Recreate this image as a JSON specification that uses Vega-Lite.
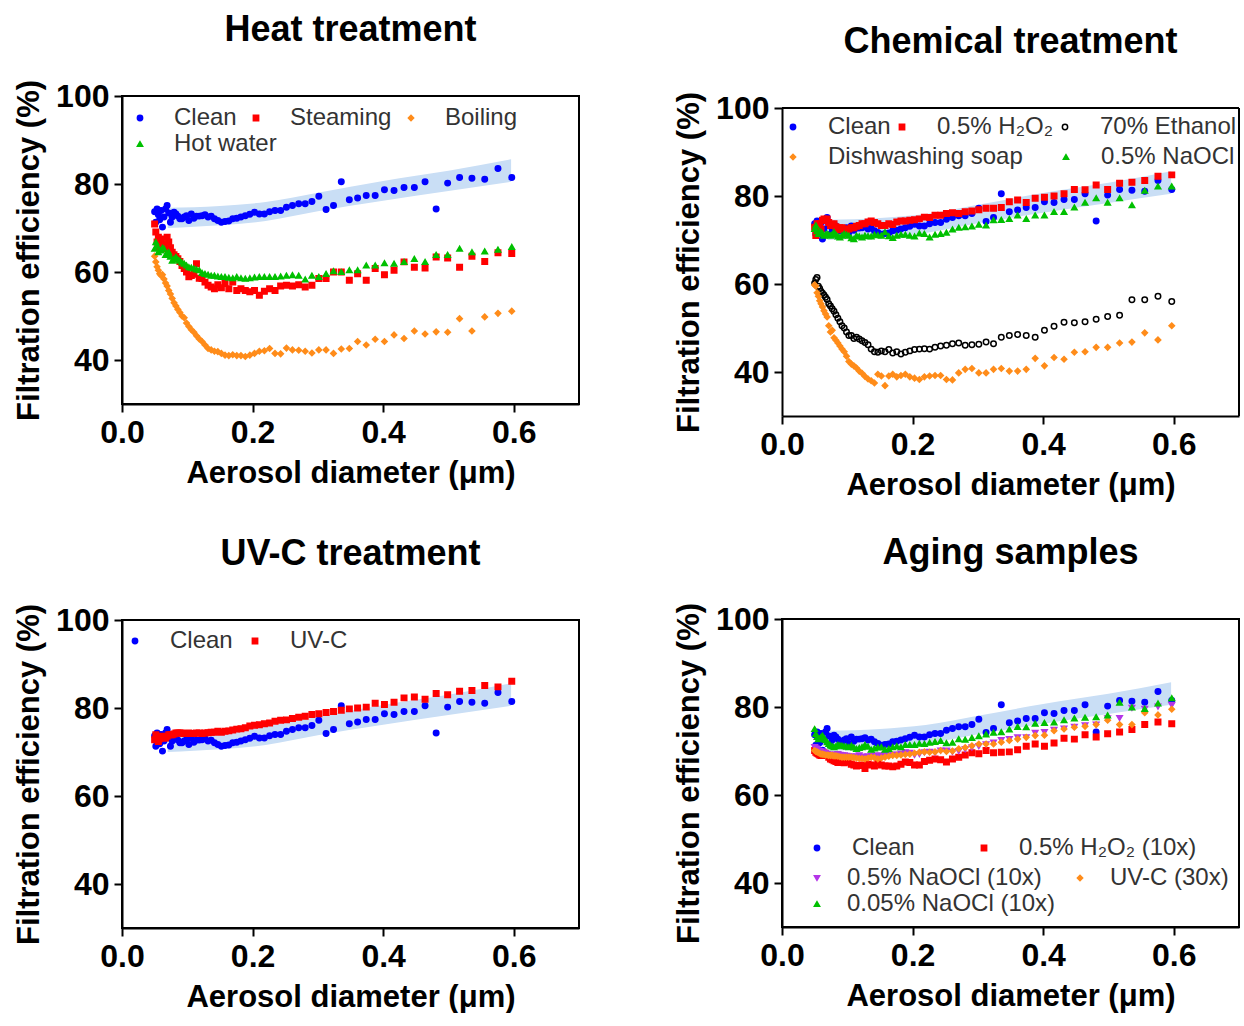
{
"$schema": "https://vega.github.io/schema/vega-lite/v6.json",
"padding": {"left": 12, "top": 11, "right": 0, "bottom": 0},
"background": "white",
"datasets": {
"band": [
{"x":0.07,"lo":70.0,"hi":74.6},{"x":0.15,"lo":70.6,"hi":75.0},{"x":0.22,"lo":71.6,"hi":75.9},{"x":0.30,"lo":73.8,"hi":78.0},{"x":0.40,"lo":76.2,"hi":80.7},{"x":0.50,"lo":78.4,"hi":83.0},{"x":0.596,"lo":80.5,"hi":85.6}
],
"frame": [
{"x":0,"x2":0.7,"y":100,"y2":100},{"x":0.7,"x2":0.7,"y":30,"y2":100}
],
"clean": [
{"x":0.05,"y":73.7,"s":"Clean"},{"x":0.0518,"y":71.3,"s":"Clean"},{"x":0.0537,"y":74.3,"s":"Clean"},{"x":0.0557,"y":73.0,"s":"Clean"},{"x":0.0577,"y":71.9,"s":"Clean"},{"x":0.0598,"y":74.0,"s":"Clean"},{"x":0.062,"y":70.2,"s":"Clean"},{"x":0.0643,"y":72.5,"s":"Clean"},{"x":0.0667,"y":74.3,"s":"Clean"},{"x":0.0691,"y":75.1,"s":"Clean"},
{"x":0.0716,"y":73.4,"s":"Clean"},{"x":0.0742,"y":71.3,"s":"Clean"},{"x":0.0769,"y":72.5,"s":"Clean"},{"x":0.0797,"y":73.6,"s":"Clean"},{"x":0.0826,"y":73.2,"s":"Clean"},{"x":0.0856,"y":72.7,"s":"Clean"},{"x":0.0887,"y":72.1,"s":"Clean"},{"x":0.0919,"y":72.1,"s":"Clean"},{"x":0.0953,"y":72.5,"s":"Clean"},{"x":0.0988,"y":72.8,"s":"Clean"},
{"x":0.1024,"y":71.7,"s":"Clean"},{"x":0.1062,"y":73.2,"s":"Clean"},{"x":0.1101,"y":72.2,"s":"Clean"},{"x":0.1141,"y":72.7,"s":"Clean"},{"x":0.1183,"y":72.7,"s":"Clean"},{"x":0.1226,"y":72.8,"s":"Clean"},{"x":0.1271,"y":73.0,"s":"Clean"},{"x":0.1318,"y":72.5,"s":"Clean"},{"x":0.1366,"y":72.7,"s":"Clean"},{"x":0.1416,"y":72.1,"s":"Clean"},
{"x":0.1468,"y":71.7,"s":"Clean"},{"x":0.1522,"y":71.3,"s":"Clean"},{"x":0.1578,"y":71.5,"s":"Clean"},{"x":0.1636,"y":71.6,"s":"Clean"},{"x":0.1696,"y":72.1,"s":"Clean"},{"x":0.1758,"y":72.2,"s":"Clean"},{"x":0.1822,"y":72.5,"s":"Clean"},{"x":0.1889,"y":72.8,"s":"Clean"},{"x":0.1958,"y":73.1,"s":"Clean"},{"x":0.203,"y":73.6,"s":"Clean"},
{"x":0.2104,"y":73.2,"s":"Clean"},{"x":0.2181,"y":73.2,"s":"Clean"},{"x":0.2261,"y":73.7,"s":"Clean"},{"x":0.2344,"y":74.0,"s":"Clean"},{"x":0.243,"y":74.0,"s":"Clean"},{"x":0.2519,"y":74.7,"s":"Clean"},{"x":0.2611,"y":75.1,"s":"Clean"},{"x":0.2707,"y":75.5,"s":"Clean"},{"x":0.2806,"y":75.5,"s":"Clean"},{"x":0.2909,"y":76.0,"s":"Clean"},
{"x":0.3015,"y":77.2,"s":"Clean"},{"x":0.3126,"y":74.2,"s":"Clean"},{"x":0.324,"y":75.1,"s":"Clean"},{"x":0.3359,"y":80.5,"s":"Clean"},{"x":0.3482,"y":76.4,"s":"Clean"},{"x":0.3609,"y":76.8,"s":"Clean"},{"x":0.3741,"y":77.4,"s":"Clean"},{"x":0.3878,"y":77.4,"s":"Clean"},{"x":0.402,"y":78.7,"s":"Clean"},{"x":0.4167,"y":78.5,"s":"Clean"},
{"x":0.432,"y":79.2,"s":"Clean"},{"x":0.4478,"y":79.2,"s":"Clean"},{"x":0.4642,"y":80.5,"s":"Clean"},{"x":0.4812,"y":74.3,"s":"Clean"},{"x":0.4988,"y":80.2,"s":"Clean"},{"x":0.5171,"y":81.5,"s":"Clean"},{"x":0.536,"y":81.3,"s":"Clean"},{"x":0.5556,"y":81.1,"s":"Clean"},{"x":0.5759,"y":83.5,"s":"Clean"},{"x":0.597,"y":81.5,"s":"Clean"}
],
"heat": [
{"x":0.05,"y":70.9,"s":"Steaming"},{"x":0.0518,"y":69.1,"s":"Steaming"},{"x":0.0537,"y":66.8,"s":"Steaming"},{"x":0.0557,"y":67.9,"s":"Steaming"},{"x":0.0577,"y":65.7,"s":"Steaming"},{"x":0.0598,"y":67.5,"s":"Steaming"},{"x":0.062,"y":66.4,"s":"Steaming"},{"x":0.0643,"y":65.3,"s":"Steaming"},{"x":0.0667,"y":65.8,"s":"Steaming"},{"x":0.0691,"y":67.9,"s":"Steaming"},
{"x":0.0716,"y":66.8,"s":"Steaming"},{"x":0.0742,"y":65.5,"s":"Steaming"},{"x":0.0769,"y":64.5,"s":"Steaming"},{"x":0.0797,"y":63.9,"s":"Steaming"},{"x":0.0826,"y":63.5,"s":"Steaming"},{"x":0.0856,"y":63.0,"s":"Steaming"},{"x":0.0887,"y":62.4,"s":"Steaming"},{"x":0.0919,"y":61.5,"s":"Steaming"},{"x":0.0953,"y":60.8,"s":"Steaming"},{"x":0.0988,"y":60.0,"s":"Steaming"},
{"x":0.1024,"y":58.9,"s":"Steaming"},{"x":0.1062,"y":59.2,"s":"Steaming"},{"x":0.1101,"y":59.5,"s":"Steaming"},{"x":0.1141,"y":61.9,"s":"Steaming"},{"x":0.1183,"y":58.6,"s":"Steaming"},{"x":0.1226,"y":58.5,"s":"Steaming"},{"x":0.1271,"y":57.7,"s":"Steaming"},{"x":0.1318,"y":57.0,"s":"Steaming"},{"x":0.1366,"y":56.6,"s":"Steaming"},{"x":0.1416,"y":56.2,"s":"Steaming"},
{"x":0.1468,"y":57.1,"s":"Steaming"},{"x":0.1522,"y":56.4,"s":"Steaming"},{"x":0.1578,"y":57.4,"s":"Steaming"},{"x":0.1636,"y":56.2,"s":"Steaming"},{"x":0.1696,"y":57.7,"s":"Steaming"},{"x":0.1758,"y":55.8,"s":"Steaming"},{"x":0.1822,"y":56.2,"s":"Steaming"},{"x":0.1889,"y":55.8,"s":"Steaming"},{"x":0.1958,"y":55.5,"s":"Steaming"},{"x":0.203,"y":55.8,"s":"Steaming"},
{"x":0.2104,"y":54.7,"s":"Steaming"},{"x":0.2181,"y":55.6,"s":"Steaming"},{"x":0.2261,"y":56.2,"s":"Steaming"},{"x":0.2344,"y":55.8,"s":"Steaming"},{"x":0.243,"y":56.8,"s":"Steaming"},{"x":0.2519,"y":57.0,"s":"Steaming"},{"x":0.2611,"y":56.8,"s":"Steaming"},{"x":0.2707,"y":57.1,"s":"Steaming"},{"x":0.2806,"y":56.6,"s":"Steaming"},{"x":0.2909,"y":57.0,"s":"Steaming"},
{"x":0.3015,"y":58.5,"s":"Steaming"},{"x":0.3126,"y":58.5,"s":"Steaming"},{"x":0.324,"y":60.0,"s":"Steaming"},{"x":0.3359,"y":60.0,"s":"Steaming"},{"x":0.3482,"y":58.1,"s":"Steaming"},{"x":0.3609,"y":59.6,"s":"Steaming"},{"x":0.3741,"y":58.1,"s":"Steaming"},{"x":0.3878,"y":60.8,"s":"Steaming"},{"x":0.402,"y":59.4,"s":"Steaming"},{"x":0.4167,"y":60.4,"s":"Steaming"},
{"x":0.432,"y":62.3,"s":"Steaming"},{"x":0.4478,"y":61.1,"s":"Steaming"},{"x":0.4642,"y":60.9,"s":"Steaming"},{"x":0.4812,"y":63.4,"s":"Steaming"},{"x":0.4988,"y":63.2,"s":"Steaming"},{"x":0.5171,"y":61.1,"s":"Steaming"},{"x":0.536,"y":63.6,"s":"Steaming"},{"x":0.5556,"y":62.4,"s":"Steaming"},{"x":0.5759,"y":64.4,"s":"Steaming"},{"x":0.597,"y":64.2,"s":"Steaming"},
{"x":0.05,"y":63.6,"s":"Boiling"},{"x":0.0518,"y":62.3,"s":"Boiling"},{"x":0.0537,"y":61.2,"s":"Boiling"},{"x":0.0557,"y":60.4,"s":"Boiling"},{"x":0.0577,"y":59.6,"s":"Boiling"},{"x":0.0598,"y":59.2,"s":"Boiling"},{"x":0.062,"y":59.4,"s":"Boiling"},{"x":0.0643,"y":58.4,"s":"Boiling"},{"x":0.0667,"y":57.5,"s":"Boiling"},{"x":0.0691,"y":56.8,"s":"Boiling"},
{"x":0.0716,"y":55.8,"s":"Boiling"},{"x":0.0742,"y":55.0,"s":"Boiling"},{"x":0.0769,"y":54.0,"s":"Boiling"},{"x":0.0797,"y":53.0,"s":"Boiling"},{"x":0.0826,"y":52.3,"s":"Boiling"},{"x":0.0856,"y":51.5,"s":"Boiling"},{"x":0.0887,"y":50.8,"s":"Boiling"},{"x":0.0919,"y":50.0,"s":"Boiling"},{"x":0.0953,"y":49.6,"s":"Boiling"},{"x":0.0988,"y":48.4,"s":"Boiling"},
{"x":0.1024,"y":47.6,"s":"Boiling"},{"x":0.1062,"y":46.9,"s":"Boiling"},{"x":0.1101,"y":46.3,"s":"Boiling"},{"x":0.1141,"y":45.5,"s":"Boiling"},{"x":0.1183,"y":44.8,"s":"Boiling"},{"x":0.1226,"y":44.2,"s":"Boiling"},{"x":0.1271,"y":43.4,"s":"Boiling"},{"x":0.1318,"y":42.6,"s":"Boiling"},{"x":0.1366,"y":42.3,"s":"Boiling"},{"x":0.1416,"y":42.0,"s":"Boiling"},
{"x":0.1468,"y":41.9,"s":"Boiling"},{"x":0.1522,"y":41.5,"s":"Boiling"},{"x":0.1578,"y":41.1,"s":"Boiling"},{"x":0.1636,"y":41.0,"s":"Boiling"},{"x":0.1696,"y":41.2,"s":"Boiling"},{"x":0.1758,"y":41.0,"s":"Boiling"},{"x":0.1822,"y":41.0,"s":"Boiling"},{"x":0.1889,"y":40.8,"s":"Boiling"},{"x":0.1958,"y":41.1,"s":"Boiling"},{"x":0.203,"y":41.5,"s":"Boiling"},
{"x":0.2104,"y":42.0,"s":"Boiling"},{"x":0.2181,"y":42.1,"s":"Boiling"},{"x":0.2261,"y":42.6,"s":"Boiling"},{"x":0.2344,"y":41.5,"s":"Boiling"},{"x":0.243,"y":41.4,"s":"Boiling"},{"x":0.2519,"y":42.7,"s":"Boiling"},{"x":0.2611,"y":42.3,"s":"Boiling"},{"x":0.2707,"y":42.2,"s":"Boiling"},{"x":0.2806,"y":42.0,"s":"Boiling"},{"x":0.2909,"y":41.6,"s":"Boiling"},
{"x":0.3015,"y":42.3,"s":"Boiling"},{"x":0.3126,"y":42.3,"s":"Boiling"},{"x":0.324,"y":41.5,"s":"Boiling"},{"x":0.3359,"y":42.5,"s":"Boiling"},{"x":0.3482,"y":42.6,"s":"Boiling"},{"x":0.3609,"y":44.2,"s":"Boiling"},{"x":0.3741,"y":43.4,"s":"Boiling"},{"x":0.3878,"y":44.7,"s":"Boiling"},{"x":0.402,"y":44.2,"s":"Boiling"},{"x":0.4167,"y":45.7,"s":"Boiling"},
{"x":0.432,"y":44.9,"s":"Boiling"},{"x":0.4478,"y":46.6,"s":"Boiling"},{"x":0.4642,"y":45.9,"s":"Boiling"},{"x":0.4812,"y":46.4,"s":"Boiling"},{"x":0.4988,"y":46.3,"s":"Boiling"},{"x":0.5171,"y":49.4,"s":"Boiling"},{"x":0.536,"y":46.6,"s":"Boiling"},{"x":0.5556,"y":49.8,"s":"Boiling"},{"x":0.5759,"y":50.6,"s":"Boiling"},{"x":0.597,"y":51.1,"s":"Boiling"},
{"x":0.05,"y":65.3,"s":"Hot water"},{"x":0.0518,"y":66.8,"s":"Hot water"},{"x":0.0537,"y":66.0,"s":"Hot water"},{"x":0.0557,"y":64.5,"s":"Hot water"},{"x":0.0577,"y":65.0,"s":"Hot water"},{"x":0.0598,"y":64.9,"s":"Hot water"},{"x":0.062,"y":65.5,"s":"Hot water"},{"x":0.0643,"y":65.3,"s":"Hot water"},{"x":0.0667,"y":63.9,"s":"Hot water"},{"x":0.0691,"y":64.2,"s":"Hot water"},
{"x":0.0716,"y":64.5,"s":"Hot water"},{"x":0.0742,"y":63.5,"s":"Hot water"},{"x":0.0769,"y":62.6,"s":"Hot water"},{"x":0.0797,"y":63.0,"s":"Hot water"},{"x":0.0826,"y":63.4,"s":"Hot water"},{"x":0.0856,"y":62.8,"s":"Hot water"},{"x":0.0887,"y":62.6,"s":"Hot water"},{"x":0.0919,"y":62.2,"s":"Hot water"},{"x":0.0953,"y":61.9,"s":"Hot water"},{"x":0.0988,"y":61.5,"s":"Hot water"},
{"x":0.1024,"y":61.1,"s":"Hot water"},{"x":0.1062,"y":61.0,"s":"Hot water"},{"x":0.1101,"y":60.8,"s":"Hot water"},{"x":0.1141,"y":60.6,"s":"Hot water"},{"x":0.1183,"y":60.4,"s":"Hot water"},{"x":0.1226,"y":59.8,"s":"Hot water"},{"x":0.1271,"y":59.6,"s":"Hot water"},{"x":0.1318,"y":59.4,"s":"Hot water"},{"x":0.1366,"y":59.2,"s":"Hot water"},{"x":0.1416,"y":59.2,"s":"Hot water"},
{"x":0.1468,"y":59.0,"s":"Hot water"},{"x":0.1522,"y":58.9,"s":"Hot water"},{"x":0.1578,"y":58.9,"s":"Hot water"},{"x":0.1636,"y":58.7,"s":"Hot water"},{"x":0.1696,"y":58.6,"s":"Hot water"},{"x":0.1758,"y":58.9,"s":"Hot water"},{"x":0.1822,"y":58.6,"s":"Hot water"},{"x":0.1889,"y":58.5,"s":"Hot water"},{"x":0.1958,"y":58.6,"s":"Hot water"},{"x":0.203,"y":58.8,"s":"Hot water"},
{"x":0.2104,"y":58.9,"s":"Hot water"},{"x":0.2181,"y":58.9,"s":"Hot water"},{"x":0.2261,"y":58.9,"s":"Hot water"},{"x":0.2344,"y":58.9,"s":"Hot water"},{"x":0.243,"y":59.0,"s":"Hot water"},{"x":0.2519,"y":59.2,"s":"Hot water"},{"x":0.2611,"y":59.3,"s":"Hot water"},{"x":0.2707,"y":59.2,"s":"Hot water"},{"x":0.2806,"y":58.3,"s":"Hot water"},{"x":0.2909,"y":59.2,"s":"Hot water"},
{"x":0.3015,"y":58.9,"s":"Hot water"},{"x":0.3126,"y":59.6,"s":"Hot water"},{"x":0.324,"y":60.2,"s":"Hot water"},{"x":0.3359,"y":60.0,"s":"Hot water"},{"x":0.3482,"y":60.4,"s":"Hot water"},{"x":0.3609,"y":60.4,"s":"Hot water"},{"x":0.3741,"y":61.5,"s":"Hot water"},{"x":0.3878,"y":61.5,"s":"Hot water"},{"x":0.402,"y":62.0,"s":"Hot water"},{"x":0.4167,"y":61.9,"s":"Hot water"},
{"x":0.432,"y":62.3,"s":"Hot water"},{"x":0.4478,"y":63.0,"s":"Hot water"},{"x":0.4642,"y":62.3,"s":"Hot water"},{"x":0.4812,"y":63.9,"s":"Hot water"},{"x":0.4988,"y":63.9,"s":"Hot water"},{"x":0.5171,"y":65.3,"s":"Hot water"},{"x":0.536,"y":64.5,"s":"Hot water"},{"x":0.5556,"y":64.7,"s":"Hot water"},{"x":0.5759,"y":65.1,"s":"Hot water"},{"x":0.597,"y":65.7,"s":"Hot water"}
],
"chem": [
{"x":0.05,"y":72.9,"s":"0.5% H₂O₂"},{"x":0.0518,"y":71.0,"s":"0.5% H₂O₂"},{"x":0.0537,"y":73.7,"s":"0.5% H₂O₂"},{"x":0.0557,"y":71.8,"s":"0.5% H₂O₂"},{"x":0.0577,"y":73.7,"s":"0.5% H₂O₂"},{"x":0.0598,"y":72.5,"s":"0.5% H₂O₂"},{"x":0.062,"y":74.5,"s":"0.5% H₂O₂"},{"x":0.0643,"y":74.8,"s":"0.5% H₂O₂"},{"x":0.0667,"y":74.5,"s":"0.5% H₂O₂"},{"x":0.0691,"y":74.8,"s":"0.5% H₂O₂"},
{"x":0.0716,"y":74.0,"s":"0.5% H₂O₂"},{"x":0.0742,"y":73.3,"s":"0.5% H₂O₂"},{"x":0.0769,"y":73.3,"s":"0.5% H₂O₂"},{"x":0.0797,"y":73.7,"s":"0.5% H₂O₂"},{"x":0.0826,"y":73.0,"s":"0.5% H₂O₂"},{"x":0.0856,"y":72.3,"s":"0.5% H₂O₂"},{"x":0.0887,"y":72.8,"s":"0.5% H₂O₂"},{"x":0.0919,"y":72.8,"s":"0.5% H₂O₂"},{"x":0.0953,"y":72.5,"s":"0.5% H₂O₂"},{"x":0.0988,"y":72.2,"s":"0.5% H₂O₂"},
{"x":0.1024,"y":72.5,"s":"0.5% H₂O₂"},{"x":0.1062,"y":72.8,"s":"0.5% H₂O₂"},{"x":0.1101,"y":72.8,"s":"0.5% H₂O₂"},{"x":0.1141,"y":73.1,"s":"0.5% H₂O₂"},{"x":0.1183,"y":73.3,"s":"0.5% H₂O₂"},{"x":0.1226,"y":73.7,"s":"0.5% H₂O₂"},{"x":0.1271,"y":73.7,"s":"0.5% H₂O₂"},{"x":0.1318,"y":74.1,"s":"0.5% H₂O₂"},{"x":0.1366,"y":74.3,"s":"0.5% H₂O₂"},{"x":0.1416,"y":74.0,"s":"0.5% H₂O₂"},
{"x":0.1468,"y":73.7,"s":"0.5% H₂O₂"},{"x":0.1522,"y":73.3,"s":"0.5% H₂O₂"},{"x":0.1578,"y":73.3,"s":"0.5% H₂O₂"},{"x":0.1636,"y":73.7,"s":"0.5% H₂O₂"},{"x":0.1696,"y":73.5,"s":"0.5% H₂O₂"},{"x":0.1758,"y":74.1,"s":"0.5% H₂O₂"},{"x":0.1822,"y":74.3,"s":"0.5% H₂O₂"},{"x":0.1889,"y":74.3,"s":"0.5% H₂O₂"},{"x":0.1958,"y":74.5,"s":"0.5% H₂O₂"},{"x":0.203,"y":74.6,"s":"0.5% H₂O₂"},
{"x":0.2104,"y":74.8,"s":"0.5% H₂O₂"},{"x":0.2181,"y":75.2,"s":"0.5% H₂O₂"},{"x":0.2261,"y":75.1,"s":"0.5% H₂O₂"},{"x":0.2344,"y":75.6,"s":"0.5% H₂O₂"},{"x":0.243,"y":75.6,"s":"0.5% H₂O₂"},{"x":0.2519,"y":76.0,"s":"0.5% H₂O₂"},{"x":0.2611,"y":76.2,"s":"0.5% H₂O₂"},{"x":0.2707,"y":76.0,"s":"0.5% H₂O₂"},{"x":0.2806,"y":76.4,"s":"0.5% H₂O₂"},{"x":0.2909,"y":76.6,"s":"0.5% H₂O₂"},
{"x":0.3015,"y":76.9,"s":"0.5% H₂O₂"},{"x":0.3126,"y":77.2,"s":"0.5% H₂O₂"},{"x":0.324,"y":77.2,"s":"0.5% H₂O₂"},{"x":0.3359,"y":77.4,"s":"0.5% H₂O₂"},{"x":0.3482,"y":78.7,"s":"0.5% H₂O₂"},{"x":0.3609,"y":79.1,"s":"0.5% H₂O₂"},{"x":0.3741,"y":78.5,"s":"0.5% H₂O₂"},{"x":0.3878,"y":79.5,"s":"0.5% H₂O₂"},{"x":0.402,"y":79.7,"s":"0.5% H₂O₂"},{"x":0.4167,"y":80.0,"s":"0.5% H₂O₂"},
{"x":0.432,"y":80.5,"s":"0.5% H₂O₂"},{"x":0.4478,"y":81.5,"s":"0.5% H₂O₂"},{"x":0.4642,"y":81.4,"s":"0.5% H₂O₂"},{"x":0.4812,"y":82.5,"s":"0.5% H₂O₂"},{"x":0.4988,"y":81.5,"s":"0.5% H₂O₂"},{"x":0.5171,"y":82.9,"s":"0.5% H₂O₂"},{"x":0.536,"y":83.1,"s":"0.5% H₂O₂"},{"x":0.5556,"y":83.5,"s":"0.5% H₂O₂"},{"x":0.5759,"y":84.5,"s":"0.5% H₂O₂"},{"x":0.597,"y":84.8,"s":"0.5% H₂O₂"},
{"x":0.05,"y":60.2,"s":"70% Ethanol"},{"x":0.0518,"y":61.0,"s":"70% Ethanol"},{"x":0.0537,"y":61.5,"s":"70% Ethanol"},{"x":0.0557,"y":59.5,"s":"70% Ethanol"},{"x":0.0577,"y":59.0,"s":"70% Ethanol"},{"x":0.0598,"y":58.3,"s":"70% Ethanol"},{"x":0.062,"y":57.9,"s":"70% Ethanol"},{"x":0.0643,"y":57.5,"s":"70% Ethanol"},{"x":0.0667,"y":57.0,"s":"70% Ethanol"},{"x":0.0691,"y":56.5,"s":"70% Ethanol"},
{"x":0.0716,"y":55.5,"s":"70% Ethanol"},{"x":0.0742,"y":55.0,"s":"70% Ethanol"},{"x":0.0769,"y":54.4,"s":"70% Ethanol"},{"x":0.0797,"y":53.8,"s":"70% Ethanol"},{"x":0.0826,"y":53.0,"s":"70% Ethanol"},{"x":0.0856,"y":52.2,"s":"70% Ethanol"},{"x":0.0887,"y":51.4,"s":"70% Ethanol"},{"x":0.0919,"y":50.5,"s":"70% Ethanol"},{"x":0.0953,"y":50.0,"s":"70% Ethanol"},{"x":0.0988,"y":49.1,"s":"70% Ethanol"},
{"x":0.1024,"y":48.3,"s":"70% Ethanol"},{"x":0.1062,"y":48.3,"s":"70% Ethanol"},{"x":0.1101,"y":47.6,"s":"70% Ethanol"},{"x":0.1141,"y":47.9,"s":"70% Ethanol"},{"x":0.1183,"y":47.5,"s":"70% Ethanol"},{"x":0.1226,"y":47.1,"s":"70% Ethanol"},{"x":0.1271,"y":46.7,"s":"70% Ethanol"},{"x":0.1318,"y":46.2,"s":"70% Ethanol"},{"x":0.1366,"y":45.2,"s":"70% Ethanol"},{"x":0.1416,"y":44.6,"s":"70% Ethanol"},
{"x":0.1468,"y":44.5,"s":"70% Ethanol"},{"x":0.1522,"y":44.8,"s":"70% Ethanol"},{"x":0.1578,"y":44.6,"s":"70% Ethanol"},{"x":0.1636,"y":45.1,"s":"70% Ethanol"},{"x":0.1696,"y":44.3,"s":"70% Ethanol"},{"x":0.1758,"y":44.6,"s":"70% Ethanol"},{"x":0.1822,"y":44.1,"s":"70% Ethanol"},{"x":0.1889,"y":44.5,"s":"70% Ethanol"},{"x":0.1958,"y":44.8,"s":"70% Ethanol"},{"x":0.203,"y":45.1,"s":"70% Ethanol"},
{"x":0.2104,"y":45.2,"s":"70% Ethanol"},{"x":0.2181,"y":45.3,"s":"70% Ethanol"},{"x":0.2261,"y":45.2,"s":"70% Ethanol"},{"x":0.2344,"y":45.6,"s":"70% Ethanol"},{"x":0.243,"y":45.9,"s":"70% Ethanol"},{"x":0.2519,"y":46.1,"s":"70% Ethanol"},{"x":0.2611,"y":46.4,"s":"70% Ethanol"},{"x":0.2707,"y":46.6,"s":"70% Ethanol"},{"x":0.2806,"y":46.1,"s":"70% Ethanol"},{"x":0.2909,"y":46.2,"s":"70% Ethanol"},
{"x":0.3015,"y":46.3,"s":"70% Ethanol"},{"x":0.3126,"y":46.8,"s":"70% Ethanol"},{"x":0.324,"y":46.4,"s":"70% Ethanol"},{"x":0.3359,"y":47.9,"s":"70% Ethanol"},{"x":0.3482,"y":48.3,"s":"70% Ethanol"},{"x":0.3609,"y":48.5,"s":"70% Ethanol"},{"x":0.3741,"y":48.3,"s":"70% Ethanol"},{"x":0.3878,"y":47.9,"s":"70% Ethanol"},{"x":0.402,"y":49.5,"s":"70% Ethanol"},{"x":0.4167,"y":50.4,"s":"70% Ethanol"},
{"x":0.432,"y":51.3,"s":"70% Ethanol"},{"x":0.4478,"y":51.2,"s":"70% Ethanol"},{"x":0.4642,"y":51.4,"s":"70% Ethanol"},{"x":0.4812,"y":52.0,"s":"70% Ethanol"},{"x":0.4988,"y":52.6,"s":"70% Ethanol"},{"x":0.5171,"y":52.9,"s":"70% Ethanol"},{"x":0.536,"y":56.4,"s":"70% Ethanol"},{"x":0.5556,"y":56.4,"s":"70% Ethanol"},{"x":0.5759,"y":57.2,"s":"70% Ethanol"},{"x":0.597,"y":56.0,"s":"70% Ethanol"},
{"x":0.05,"y":59.8,"s":"Dishwashing soap"},{"x":0.0518,"y":59.5,"s":"Dishwashing soap"},{"x":0.0537,"y":58.0,"s":"Dishwashing soap"},{"x":0.0557,"y":57.2,"s":"Dishwashing soap"},{"x":0.0577,"y":56.2,"s":"Dishwashing soap"},{"x":0.0598,"y":55.5,"s":"Dishwashing soap"},{"x":0.062,"y":54.8,"s":"Dishwashing soap"},{"x":0.0643,"y":53.9,"s":"Dishwashing soap"},{"x":0.0667,"y":53.2,"s":"Dishwashing soap"},{"x":0.0691,"y":52.5,"s":"Dishwashing soap"},
{"x":0.0716,"y":50.5,"s":"Dishwashing soap"},{"x":0.0742,"y":49.1,"s":"Dishwashing soap"},{"x":0.0769,"y":49.5,"s":"Dishwashing soap"},{"x":0.0797,"y":47.8,"s":"Dishwashing soap"},{"x":0.0826,"y":47.2,"s":"Dishwashing soap"},{"x":0.0856,"y":46.6,"s":"Dishwashing soap"},{"x":0.0887,"y":45.9,"s":"Dishwashing soap"},{"x":0.0919,"y":45.2,"s":"Dishwashing soap"},{"x":0.0953,"y":44.6,"s":"Dishwashing soap"},{"x":0.0988,"y":43.6,"s":"Dishwashing soap"},
{"x":0.1024,"y":42.4,"s":"Dishwashing soap"},{"x":0.1062,"y":41.8,"s":"Dishwashing soap"},{"x":0.1101,"y":41.4,"s":"Dishwashing soap"},{"x":0.1141,"y":40.9,"s":"Dishwashing soap"},{"x":0.1183,"y":40.2,"s":"Dishwashing soap"},{"x":0.1226,"y":39.7,"s":"Dishwashing soap"},{"x":0.1271,"y":39.0,"s":"Dishwashing soap"},{"x":0.1318,"y":38.4,"s":"Dishwashing soap"},{"x":0.1366,"y":38.0,"s":"Dishwashing soap"},{"x":0.1416,"y":37.5,"s":"Dishwashing soap"},
{"x":0.1468,"y":39.5,"s":"Dishwashing soap"},{"x":0.1522,"y":39.1,"s":"Dishwashing soap"},{"x":0.1578,"y":36.9,"s":"Dishwashing soap"},{"x":0.1636,"y":39.1,"s":"Dishwashing soap"},{"x":0.1696,"y":39.5,"s":"Dishwashing soap"},{"x":0.1758,"y":38.9,"s":"Dishwashing soap"},{"x":0.1822,"y":39.2,"s":"Dishwashing soap"},{"x":0.1889,"y":39.5,"s":"Dishwashing soap"},{"x":0.1958,"y":38.9,"s":"Dishwashing soap"},{"x":0.203,"y":38.6,"s":"Dishwashing soap"},
{"x":0.2104,"y":38.3,"s":"Dishwashing soap"},{"x":0.2181,"y":38.9,"s":"Dishwashing soap"},{"x":0.2261,"y":39.1,"s":"Dishwashing soap"},{"x":0.2344,"y":39.2,"s":"Dishwashing soap"},{"x":0.243,"y":39.2,"s":"Dishwashing soap"},{"x":0.2519,"y":38.3,"s":"Dishwashing soap"},{"x":0.2611,"y":38.2,"s":"Dishwashing soap"},{"x":0.2707,"y":39.8,"s":"Dishwashing soap"},{"x":0.2806,"y":40.6,"s":"Dishwashing soap"},{"x":0.2909,"y":40.8,"s":"Dishwashing soap"},
{"x":0.3015,"y":39.8,"s":"Dishwashing soap"},{"x":0.3126,"y":39.8,"s":"Dishwashing soap"},{"x":0.324,"y":40.6,"s":"Dishwashing soap"},{"x":0.3359,"y":40.8,"s":"Dishwashing soap"},{"x":0.3482,"y":40.2,"s":"Dishwashing soap"},{"x":0.3609,"y":40.2,"s":"Dishwashing soap"},{"x":0.3741,"y":40.6,"s":"Dishwashing soap"},{"x":0.3878,"y":43.1,"s":"Dishwashing soap"},{"x":0.402,"y":41.4,"s":"Dishwashing soap"},{"x":0.4167,"y":43.3,"s":"Dishwashing soap"},
{"x":0.432,"y":42.9,"s":"Dishwashing soap"},{"x":0.4478,"y":44.5,"s":"Dishwashing soap"},{"x":0.4642,"y":44.6,"s":"Dishwashing soap"},{"x":0.4812,"y":45.6,"s":"Dishwashing soap"},{"x":0.4988,"y":45.6,"s":"Dishwashing soap"},{"x":0.5171,"y":46.6,"s":"Dishwashing soap"},{"x":0.536,"y":46.8,"s":"Dishwashing soap"},{"x":0.5556,"y":48.9,"s":"Dishwashing soap"},{"x":0.5759,"y":47.3,"s":"Dishwashing soap"},{"x":0.597,"y":50.5,"s":"Dishwashing soap"},
{"x":0.05,"y":72.5,"s":"0.5% NaOCl"},{"x":0.0518,"y":73.3,"s":"0.5% NaOCl"},{"x":0.0537,"y":72.0,"s":"0.5% NaOCl"},{"x":0.0557,"y":71.4,"s":"0.5% NaOCl"},{"x":0.0577,"y":72.0,"s":"0.5% NaOCl"},{"x":0.0598,"y":71.8,"s":"0.5% NaOCl"},{"x":0.062,"y":71.5,"s":"0.5% NaOCl"},{"x":0.0643,"y":71.0,"s":"0.5% NaOCl"},{"x":0.0667,"y":71.2,"s":"0.5% NaOCl"},{"x":0.0691,"y":71.4,"s":"0.5% NaOCl"},
{"x":0.0716,"y":71.2,"s":"0.5% NaOCl"},{"x":0.0742,"y":71.0,"s":"0.5% NaOCl"},{"x":0.0769,"y":71.3,"s":"0.5% NaOCl"},{"x":0.0797,"y":71.8,"s":"0.5% NaOCl"},{"x":0.0826,"y":71.2,"s":"0.5% NaOCl"},{"x":0.0856,"y":70.8,"s":"0.5% NaOCl"},{"x":0.0887,"y":70.6,"s":"0.5% NaOCl"},{"x":0.0919,"y":71.0,"s":"0.5% NaOCl"},{"x":0.0953,"y":71.4,"s":"0.5% NaOCl"},{"x":0.0988,"y":71.2,"s":"0.5% NaOCl"},
{"x":0.1024,"y":71.0,"s":"0.5% NaOCl"},{"x":0.1062,"y":70.4,"s":"0.5% NaOCl"},{"x":0.1101,"y":70.2,"s":"0.5% NaOCl"},{"x":0.1141,"y":71.0,"s":"0.5% NaOCl"},{"x":0.1183,"y":70.8,"s":"0.5% NaOCl"},{"x":0.1226,"y":70.6,"s":"0.5% NaOCl"},{"x":0.1271,"y":71.0,"s":"0.5% NaOCl"},{"x":0.1318,"y":70.9,"s":"0.5% NaOCl"},{"x":0.1366,"y":70.8,"s":"0.5% NaOCl"},{"x":0.1416,"y":71.2,"s":"0.5% NaOCl"},
{"x":0.1468,"y":71.1,"s":"0.5% NaOCl"},{"x":0.1522,"y":71.0,"s":"0.5% NaOCl"},{"x":0.1578,"y":71.8,"s":"0.5% NaOCl"},{"x":0.1636,"y":70.9,"s":"0.5% NaOCl"},{"x":0.1696,"y":70.5,"s":"0.5% NaOCl"},{"x":0.1758,"y":71.0,"s":"0.5% NaOCl"},{"x":0.1822,"y":71.2,"s":"0.5% NaOCl"},{"x":0.1889,"y":71.2,"s":"0.5% NaOCl"},{"x":0.1958,"y":71.0,"s":"0.5% NaOCl"},{"x":0.203,"y":70.8,"s":"0.5% NaOCl"},
{"x":0.2104,"y":71.5,"s":"0.5% NaOCl"},{"x":0.2181,"y":71.4,"s":"0.5% NaOCl"},{"x":0.2261,"y":70.6,"s":"0.5% NaOCl"},{"x":0.2344,"y":71.2,"s":"0.5% NaOCl"},{"x":0.243,"y":71.4,"s":"0.5% NaOCl"},{"x":0.2519,"y":71.7,"s":"0.5% NaOCl"},{"x":0.2611,"y":72.4,"s":"0.5% NaOCl"},{"x":0.2707,"y":72.8,"s":"0.5% NaOCl"},{"x":0.2806,"y":72.9,"s":"0.5% NaOCl"},{"x":0.2909,"y":73.1,"s":"0.5% NaOCl"},
{"x":0.3015,"y":73.5,"s":"0.5% NaOCl"},{"x":0.3126,"y":73.3,"s":"0.5% NaOCl"},{"x":0.324,"y":74.5,"s":"0.5% NaOCl"},{"x":0.3359,"y":74.6,"s":"0.5% NaOCl"},{"x":0.3482,"y":74.8,"s":"0.5% NaOCl"},{"x":0.3609,"y":75.6,"s":"0.5% NaOCl"},{"x":0.3741,"y":74.8,"s":"0.5% NaOCl"},{"x":0.3878,"y":75.6,"s":"0.5% NaOCl"},{"x":0.402,"y":75.6,"s":"0.5% NaOCl"},{"x":0.4167,"y":76.4,"s":"0.5% NaOCl"},
{"x":0.432,"y":76.4,"s":"0.5% NaOCl"},{"x":0.4478,"y":77.4,"s":"0.5% NaOCl"},{"x":0.4642,"y":78.5,"s":"0.5% NaOCl"},{"x":0.4812,"y":79.5,"s":"0.5% NaOCl"},{"x":0.4988,"y":78.5,"s":"0.5% NaOCl"},{"x":0.5171,"y":79.5,"s":"0.5% NaOCl"},{"x":0.536,"y":77.9,"s":"0.5% NaOCl"},{"x":0.5556,"y":81.2,"s":"0.5% NaOCl"},{"x":0.5759,"y":82.2,"s":"0.5% NaOCl"},{"x":0.597,"y":82.2,"s":"0.5% NaOCl"}
],
"uv": [
{"x":0.05,"y":72.8,"s":"UV-C"},{"x":0.0518,"y":73.9,"s":"UV-C"},{"x":0.0537,"y":73.0,"s":"UV-C"},{"x":0.0557,"y":72.4,"s":"UV-C"},{"x":0.0577,"y":73.0,"s":"UV-C"},{"x":0.0598,"y":73.6,"s":"UV-C"},{"x":0.062,"y":73.4,"s":"UV-C"},{"x":0.0643,"y":73.2,"s":"UV-C"},{"x":0.0667,"y":73.2,"s":"UV-C"},{"x":0.0691,"y":73.6,"s":"UV-C"},
{"x":0.0716,"y":73.9,"s":"UV-C"},{"x":0.0742,"y":73.9,"s":"UV-C"},{"x":0.0769,"y":73.9,"s":"UV-C"},{"x":0.0797,"y":74.1,"s":"UV-C"},{"x":0.0826,"y":74.3,"s":"UV-C"},{"x":0.0856,"y":74.3,"s":"UV-C"},{"x":0.0887,"y":74.3,"s":"UV-C"},{"x":0.0919,"y":74.3,"s":"UV-C"},{"x":0.0953,"y":74.2,"s":"UV-C"},{"x":0.0988,"y":74.2,"s":"UV-C"},
{"x":0.1024,"y":74.3,"s":"UV-C"},{"x":0.1062,"y":74.2,"s":"UV-C"},{"x":0.1101,"y":74.2,"s":"UV-C"},{"x":0.1141,"y":74.3,"s":"UV-C"},{"x":0.1183,"y":74.3,"s":"UV-C"},{"x":0.1226,"y":74.2,"s":"UV-C"},{"x":0.1271,"y":74.3,"s":"UV-C"},{"x":0.1318,"y":74.4,"s":"UV-C"},{"x":0.1366,"y":74.5,"s":"UV-C"},{"x":0.1416,"y":74.5,"s":"UV-C"},
{"x":0.1468,"y":74.7,"s":"UV-C"},{"x":0.1522,"y":74.5,"s":"UV-C"},{"x":0.1578,"y":74.7,"s":"UV-C"},{"x":0.1636,"y":74.8,"s":"UV-C"},{"x":0.1696,"y":75.0,"s":"UV-C"},{"x":0.1758,"y":75.2,"s":"UV-C"},{"x":0.1822,"y":75.3,"s":"UV-C"},{"x":0.1889,"y":75.5,"s":"UV-C"},{"x":0.1958,"y":75.9,"s":"UV-C"},{"x":0.203,"y":76.1,"s":"UV-C"},
{"x":0.2104,"y":76.2,"s":"UV-C"},{"x":0.2181,"y":76.4,"s":"UV-C"},{"x":0.2261,"y":76.6,"s":"UV-C"},{"x":0.2344,"y":77.0,"s":"UV-C"},{"x":0.243,"y":77.2,"s":"UV-C"},{"x":0.2519,"y":77.3,"s":"UV-C"},{"x":0.2611,"y":77.6,"s":"UV-C"},{"x":0.2707,"y":77.9,"s":"UV-C"},{"x":0.2806,"y":78.1,"s":"UV-C"},{"x":0.2909,"y":78.5,"s":"UV-C"},
{"x":0.3015,"y":78.7,"s":"UV-C"},{"x":0.3126,"y":79.0,"s":"UV-C"},{"x":0.324,"y":79.2,"s":"UV-C"},{"x":0.3359,"y":79.5,"s":"UV-C"},{"x":0.3482,"y":79.8,"s":"UV-C"},{"x":0.3609,"y":80.0,"s":"UV-C"},{"x":0.3741,"y":80.2,"s":"UV-C"},{"x":0.3878,"y":81.1,"s":"UV-C"},{"x":0.402,"y":80.8,"s":"UV-C"},{"x":0.4167,"y":81.3,"s":"UV-C"},
{"x":0.432,"y":82.3,"s":"UV-C"},{"x":0.4478,"y":82.5,"s":"UV-C"},{"x":0.4642,"y":82.0,"s":"UV-C"},{"x":0.4812,"y":83.3,"s":"UV-C"},{"x":0.4988,"y":83.0,"s":"UV-C"},{"x":0.5171,"y":83.8,"s":"UV-C"},{"x":0.536,"y":84.0,"s":"UV-C"},{"x":0.5556,"y":85.1,"s":"UV-C"},{"x":0.5759,"y":84.8,"s":"UV-C"},{"x":0.597,"y":86.1,"s":"UV-C"}
],
"aging": [
{"x":0.05,"y":70.1,"s":"0.5% H₂O₂ (10x)"},{"x":0.0518,"y":69.7,"s":"0.5% H₂O₂ (10x)"},{"x":0.0537,"y":69.5,"s":"0.5% H₂O₂ (10x)"},{"x":0.0557,"y":69.3,"s":"0.5% H₂O₂ (10x)"},{"x":0.0577,"y":69.1,"s":"0.5% H₂O₂ (10x)"},{"x":0.0598,"y":69.0,"s":"0.5% H₂O₂ (10x)"},{"x":0.062,"y":69.4,"s":"0.5% H₂O₂ (10x)"},{"x":0.0643,"y":69.6,"s":"0.5% H₂O₂ (10x)"},{"x":0.0667,"y":69.3,"s":"0.5% H₂O₂ (10x)"},{"x":0.0691,"y":69.0,"s":"0.5% H₂O₂ (10x)"},
{"x":0.0716,"y":68.6,"s":"0.5% H₂O₂ (10x)"},{"x":0.0742,"y":68.2,"s":"0.5% H₂O₂ (10x)"},{"x":0.0769,"y":68.0,"s":"0.5% H₂O₂ (10x)"},{"x":0.0797,"y":67.8,"s":"0.5% H₂O₂ (10x)"},{"x":0.0826,"y":67.6,"s":"0.5% H₂O₂ (10x)"},{"x":0.0856,"y":67.4,"s":"0.5% H₂O₂ (10x)"},{"x":0.0887,"y":67.6,"s":"0.5% H₂O₂ (10x)"},{"x":0.0919,"y":67.8,"s":"0.5% H₂O₂ (10x)"},{"x":0.0953,"y":67.3,"s":"0.5% H₂O₂ (10x)"},{"x":0.0988,"y":67.5,"s":"0.5% H₂O₂ (10x)"},
{"x":0.1024,"y":67.6,"s":"0.5% H₂O₂ (10x)"},{"x":0.1062,"y":67.0,"s":"0.5% H₂O₂ (10x)"},{"x":0.1101,"y":66.8,"s":"0.5% H₂O₂ (10x)"},{"x":0.1141,"y":66.6,"s":"0.5% H₂O₂ (10x)"},{"x":0.1183,"y":66.7,"s":"0.5% H₂O₂ (10x)"},{"x":0.1226,"y":66.8,"s":"0.5% H₂O₂ (10x)"},{"x":0.1271,"y":66.0,"s":"0.5% H₂O₂ (10x)"},{"x":0.1318,"y":67.0,"s":"0.5% H₂O₂ (10x)"},{"x":0.1366,"y":66.8,"s":"0.5% H₂O₂ (10x)"},{"x":0.1416,"y":66.6,"s":"0.5% H₂O₂ (10x)"},
{"x":0.1468,"y":67.4,"s":"0.5% H₂O₂ (10x)"},{"x":0.1522,"y":66.8,"s":"0.5% H₂O₂ (10x)"},{"x":0.1578,"y":66.6,"s":"0.5% H₂O₂ (10x)"},{"x":0.1636,"y":66.6,"s":"0.5% H₂O₂ (10x)"},{"x":0.1696,"y":66.4,"s":"0.5% H₂O₂ (10x)"},{"x":0.1758,"y":66.6,"s":"0.5% H₂O₂ (10x)"},{"x":0.1822,"y":67.0,"s":"0.5% H₂O₂ (10x)"},{"x":0.1889,"y":67.5,"s":"0.5% H₂O₂ (10x)"},{"x":0.1958,"y":67.4,"s":"0.5% H₂O₂ (10x)"},{"x":0.203,"y":66.8,"s":"0.5% H₂O₂ (10x)"},
{"x":0.2104,"y":66.8,"s":"0.5% H₂O₂ (10x)"},{"x":0.2181,"y":67.6,"s":"0.5% H₂O₂ (10x)"},{"x":0.2261,"y":67.9,"s":"0.5% H₂O₂ (10x)"},{"x":0.2344,"y":68.2,"s":"0.5% H₂O₂ (10x)"},{"x":0.243,"y":68.0,"s":"0.5% H₂O₂ (10x)"},{"x":0.2519,"y":67.5,"s":"0.5% H₂O₂ (10x)"},{"x":0.2611,"y":68.2,"s":"0.5% H₂O₂ (10x)"},{"x":0.2707,"y":68.6,"s":"0.5% H₂O₂ (10x)"},{"x":0.2806,"y":69.1,"s":"0.5% H₂O₂ (10x)"},{"x":0.2909,"y":69.6,"s":"0.5% H₂O₂ (10x)"},
{"x":0.3015,"y":69.4,"s":"0.5% H₂O₂ (10x)"},{"x":0.3126,"y":70.1,"s":"0.5% H₂O₂ (10x)"},{"x":0.324,"y":69.6,"s":"0.5% H₂O₂ (10x)"},{"x":0.3359,"y":69.7,"s":"0.5% H₂O₂ (10x)"},{"x":0.3482,"y":69.8,"s":"0.5% H₂O₂ (10x)"},{"x":0.3609,"y":70.3,"s":"0.5% H₂O₂ (10x)"},{"x":0.3741,"y":71.1,"s":"0.5% H₂O₂ (10x)"},{"x":0.3878,"y":71.6,"s":"0.5% H₂O₂ (10x)"},{"x":0.402,"y":71.1,"s":"0.5% H₂O₂ (10x)"},{"x":0.4167,"y":71.8,"s":"0.5% H₂O₂ (10x)"},
{"x":0.432,"y":72.9,"s":"0.5% H₂O₂ (10x)"},{"x":0.4478,"y":72.7,"s":"0.5% H₂O₂ (10x)"},{"x":0.4642,"y":73.7,"s":"0.5% H₂O₂ (10x)"},{"x":0.4812,"y":73.2,"s":"0.5% H₂O₂ (10x)"},{"x":0.4988,"y":73.9,"s":"0.5% H₂O₂ (10x)"},{"x":0.5171,"y":74.3,"s":"0.5% H₂O₂ (10x)"},{"x":0.536,"y":74.9,"s":"0.5% H₂O₂ (10x)"},{"x":0.5556,"y":76.0,"s":"0.5% H₂O₂ (10x)"},{"x":0.5759,"y":76.6,"s":"0.5% H₂O₂ (10x)"},{"x":0.597,"y":76.2,"s":"0.5% H₂O₂ (10x)"},
{"x":0.05,"y":70.9,"s":"0.5% NaOCl (10x)"},{"x":0.0518,"y":70.6,"s":"0.5% NaOCl (10x)"},{"x":0.0537,"y":70.4,"s":"0.5% NaOCl (10x)"},{"x":0.0557,"y":70.1,"s":"0.5% NaOCl (10x)"},{"x":0.0577,"y":70.0,"s":"0.5% NaOCl (10x)"},{"x":0.0598,"y":69.9,"s":"0.5% NaOCl (10x)"},{"x":0.062,"y":69.7,"s":"0.5% NaOCl (10x)"},{"x":0.0643,"y":69.6,"s":"0.5% NaOCl (10x)"},{"x":0.0667,"y":69.5,"s":"0.5% NaOCl (10x)"},{"x":0.0691,"y":69.3,"s":"0.5% NaOCl (10x)"},
{"x":0.0716,"y":69.2,"s":"0.5% NaOCl (10x)"},{"x":0.0742,"y":69.1,"s":"0.5% NaOCl (10x)"},{"x":0.0769,"y":69.0,"s":"0.5% NaOCl (10x)"},{"x":0.0797,"y":69.1,"s":"0.5% NaOCl (10x)"},{"x":0.0826,"y":69.2,"s":"0.5% NaOCl (10x)"},{"x":0.0856,"y":69.3,"s":"0.5% NaOCl (10x)"},{"x":0.0887,"y":69.1,"s":"0.5% NaOCl (10x)"},{"x":0.0919,"y":69.0,"s":"0.5% NaOCl (10x)"},{"x":0.0953,"y":69.0,"s":"0.5% NaOCl (10x)"},{"x":0.0988,"y":68.9,"s":"0.5% NaOCl (10x)"},
{"x":0.1024,"y":68.8,"s":"0.5% NaOCl (10x)"},{"x":0.1062,"y":68.7,"s":"0.5% NaOCl (10x)"},{"x":0.1101,"y":68.6,"s":"0.5% NaOCl (10x)"},{"x":0.1141,"y":68.8,"s":"0.5% NaOCl (10x)"},{"x":0.1183,"y":69.0,"s":"0.5% NaOCl (10x)"},{"x":0.1226,"y":68.7,"s":"0.5% NaOCl (10x)"},{"x":0.1271,"y":68.6,"s":"0.5% NaOCl (10x)"},{"x":0.1318,"y":68.8,"s":"0.5% NaOCl (10x)"},{"x":0.1366,"y":68.9,"s":"0.5% NaOCl (10x)"},{"x":0.1416,"y":69.0,"s":"0.5% NaOCl (10x)"},
{"x":0.1468,"y":68.8,"s":"0.5% NaOCl (10x)"},{"x":0.1522,"y":69.0,"s":"0.5% NaOCl (10x)"},{"x":0.1578,"y":69.1,"s":"0.5% NaOCl (10x)"},{"x":0.1636,"y":69.0,"s":"0.5% NaOCl (10x)"},{"x":0.1696,"y":69.1,"s":"0.5% NaOCl (10x)"},{"x":0.1758,"y":69.2,"s":"0.5% NaOCl (10x)"},{"x":0.1822,"y":69.4,"s":"0.5% NaOCl (10x)"},{"x":0.1889,"y":69.7,"s":"0.5% NaOCl (10x)"},{"x":0.1958,"y":69.6,"s":"0.5% NaOCl (10x)"},{"x":0.203,"y":69.1,"s":"0.5% NaOCl (10x)"},
{"x":0.2104,"y":69.3,"s":"0.5% NaOCl (10x)"},{"x":0.2181,"y":69.7,"s":"0.5% NaOCl (10x)"},{"x":0.2261,"y":69.8,"s":"0.5% NaOCl (10x)"},{"x":0.2344,"y":69.6,"s":"0.5% NaOCl (10x)"},{"x":0.243,"y":70.1,"s":"0.5% NaOCl (10x)"},{"x":0.2519,"y":70.1,"s":"0.5% NaOCl (10x)"},{"x":0.2611,"y":69.8,"s":"0.5% NaOCl (10x)"},{"x":0.2707,"y":70.0,"s":"0.5% NaOCl (10x)"},{"x":0.2806,"y":70.4,"s":"0.5% NaOCl (10x)"},{"x":0.2909,"y":70.8,"s":"0.5% NaOCl (10x)"},
{"x":0.3015,"y":71.1,"s":"0.5% NaOCl (10x)"},{"x":0.3126,"y":71.5,"s":"0.5% NaOCl (10x)"},{"x":0.324,"y":71.9,"s":"0.5% NaOCl (10x)"},{"x":0.3359,"y":72.5,"s":"0.5% NaOCl (10x)"},{"x":0.3482,"y":72.7,"s":"0.5% NaOCl (10x)"},{"x":0.3609,"y":73.1,"s":"0.5% NaOCl (10x)"},{"x":0.3741,"y":73.1,"s":"0.5% NaOCl (10x)"},{"x":0.3878,"y":74.1,"s":"0.5% NaOCl (10x)"},{"x":0.402,"y":74.3,"s":"0.5% NaOCl (10x)"},{"x":0.4167,"y":74.8,"s":"0.5% NaOCl (10x)"},
{"x":0.432,"y":75.1,"s":"0.5% NaOCl (10x)"},{"x":0.4478,"y":75.5,"s":"0.5% NaOCl (10x)"},{"x":0.4642,"y":75.8,"s":"0.5% NaOCl (10x)"},{"x":0.4812,"y":76.0,"s":"0.5% NaOCl (10x)"},{"x":0.4988,"y":77.4,"s":"0.5% NaOCl (10x)"},{"x":0.5171,"y":77.5,"s":"0.5% NaOCl (10x)"},{"x":0.536,"y":79.8,"s":"0.5% NaOCl (10x)"},{"x":0.5556,"y":79.6,"s":"0.5% NaOCl (10x)"},{"x":0.5759,"y":80.1,"s":"0.5% NaOCl (10x)"},{"x":0.597,"y":80.4,"s":"0.5% NaOCl (10x)"},
{"x":0.05,"y":70.1,"s":"UV-C (30x)"},{"x":0.0518,"y":69.9,"s":"UV-C (30x)"},{"x":0.0537,"y":69.8,"s":"UV-C (30x)"},{"x":0.0557,"y":69.6,"s":"UV-C (30x)"},{"x":0.0577,"y":69.5,"s":"UV-C (30x)"},{"x":0.0598,"y":69.3,"s":"UV-C (30x)"},{"x":0.062,"y":69.3,"s":"UV-C (30x)"},{"x":0.0643,"y":69.2,"s":"UV-C (30x)"},{"x":0.0667,"y":69.1,"s":"UV-C (30x)"},{"x":0.0691,"y":69.1,"s":"UV-C (30x)"},
{"x":0.0716,"y":69.0,"s":"UV-C (30x)"},{"x":0.0742,"y":69.0,"s":"UV-C (30x)"},{"x":0.0769,"y":69.0,"s":"UV-C (30x)"},{"x":0.0797,"y":68.9,"s":"UV-C (30x)"},{"x":0.0826,"y":68.9,"s":"UV-C (30x)"},{"x":0.0856,"y":68.8,"s":"UV-C (30x)"},{"x":0.0887,"y":68.7,"s":"UV-C (30x)"},{"x":0.0919,"y":68.6,"s":"UV-C (30x)"},{"x":0.0953,"y":68.6,"s":"UV-C (30x)"},{"x":0.0988,"y":68.6,"s":"UV-C (30x)"},
{"x":0.1024,"y":68.6,"s":"UV-C (30x)"},{"x":0.1062,"y":68.6,"s":"UV-C (30x)"},{"x":0.1101,"y":68.5,"s":"UV-C (30x)"},{"x":0.1141,"y":68.4,"s":"UV-C (30x)"},{"x":0.1183,"y":68.3,"s":"UV-C (30x)"},{"x":0.1226,"y":68.3,"s":"UV-C (30x)"},{"x":0.1271,"y":68.2,"s":"UV-C (30x)"},{"x":0.1318,"y":68.4,"s":"UV-C (30x)"},{"x":0.1366,"y":68.6,"s":"UV-C (30x)"},{"x":0.1416,"y":68.5,"s":"UV-C (30x)"},
{"x":0.1468,"y":68.2,"s":"UV-C (30x)"},{"x":0.1522,"y":68.4,"s":"UV-C (30x)"},{"x":0.1578,"y":68.6,"s":"UV-C (30x)"},{"x":0.1636,"y":68.8,"s":"UV-C (30x)"},{"x":0.1696,"y":69.0,"s":"UV-C (30x)"},{"x":0.1758,"y":69.0,"s":"UV-C (30x)"},{"x":0.1822,"y":69.1,"s":"UV-C (30x)"},{"x":0.1889,"y":69.2,"s":"UV-C (30x)"},{"x":0.1958,"y":69.3,"s":"UV-C (30x)"},{"x":0.203,"y":69.5,"s":"UV-C (30x)"},
{"x":0.2104,"y":69.7,"s":"UV-C (30x)"},{"x":0.2181,"y":69.8,"s":"UV-C (30x)"},{"x":0.2261,"y":69.7,"s":"UV-C (30x)"},{"x":0.2344,"y":69.8,"s":"UV-C (30x)"},{"x":0.243,"y":70.1,"s":"UV-C (30x)"},{"x":0.2519,"y":69.9,"s":"UV-C (30x)"},{"x":0.2611,"y":70.0,"s":"UV-C (30x)"},{"x":0.2707,"y":70.5,"s":"UV-C (30x)"},{"x":0.2806,"y":70.8,"s":"UV-C (30x)"},{"x":0.2909,"y":71.2,"s":"UV-C (30x)"},
{"x":0.3015,"y":71.6,"s":"UV-C (30x)"},{"x":0.3126,"y":71.6,"s":"UV-C (30x)"},{"x":0.324,"y":71.6,"s":"UV-C (30x)"},{"x":0.3359,"y":72.0,"s":"UV-C (30x)"},{"x":0.3482,"y":72.4,"s":"UV-C (30x)"},{"x":0.3609,"y":72.7,"s":"UV-C (30x)"},{"x":0.3741,"y":73.1,"s":"UV-C (30x)"},{"x":0.3878,"y":73.5,"s":"UV-C (30x)"},{"x":0.402,"y":73.6,"s":"UV-C (30x)"},{"x":0.4167,"y":74.6,"s":"UV-C (30x)"},
{"x":0.432,"y":75.0,"s":"UV-C (30x)"},{"x":0.4478,"y":75.4,"s":"UV-C (30x)"},{"x":0.4642,"y":75.6,"s":"UV-C (30x)"},{"x":0.4812,"y":76.0,"s":"UV-C (30x)"},{"x":0.4988,"y":77.0,"s":"UV-C (30x)"},{"x":0.5171,"y":76.0,"s":"UV-C (30x)"},{"x":0.536,"y":76.0,"s":"UV-C (30x)"},{"x":0.5556,"y":78.7,"s":"UV-C (30x)"},{"x":0.5759,"y":78.2,"s":"UV-C (30x)"},{"x":0.597,"y":79.5,"s":"UV-C (30x)"},
{"x":0.05,"y":75.0,"s":"0.05% NaOCl (10x)"},{"x":0.0518,"y":73.9,"s":"0.05% NaOCl (10x)"},{"x":0.0537,"y":73.2,"s":"0.05% NaOCl (10x)"},{"x":0.0557,"y":72.7,"s":"0.05% NaOCl (10x)"},{"x":0.0577,"y":72.8,"s":"0.05% NaOCl (10x)"},{"x":0.0598,"y":73.2,"s":"0.05% NaOCl (10x)"},{"x":0.062,"y":73.5,"s":"0.05% NaOCl (10x)"},{"x":0.0643,"y":73.0,"s":"0.05% NaOCl (10x)"},{"x":0.0667,"y":72.5,"s":"0.05% NaOCl (10x)"},{"x":0.0691,"y":72.0,"s":"0.05% NaOCl (10x)"},
{"x":0.0716,"y":71.6,"s":"0.05% NaOCl (10x)"},{"x":0.0742,"y":71.3,"s":"0.05% NaOCl (10x)"},{"x":0.0769,"y":71.1,"s":"0.05% NaOCl (10x)"},{"x":0.0797,"y":70.9,"s":"0.05% NaOCl (10x)"},{"x":0.0826,"y":71.1,"s":"0.05% NaOCl (10x)"},{"x":0.0856,"y":71.4,"s":"0.05% NaOCl (10x)"},{"x":0.0887,"y":71.3,"s":"0.05% NaOCl (10x)"},{"x":0.0919,"y":71.2,"s":"0.05% NaOCl (10x)"},{"x":0.0953,"y":71.1,"s":"0.05% NaOCl (10x)"},{"x":0.0988,"y":71.0,"s":"0.05% NaOCl (10x)"},
{"x":0.1024,"y":70.9,"s":"0.05% NaOCl (10x)"},{"x":0.1062,"y":71.2,"s":"0.05% NaOCl (10x)"},{"x":0.1101,"y":70.8,"s":"0.05% NaOCl (10x)"},{"x":0.1141,"y":70.5,"s":"0.05% NaOCl (10x)"},{"x":0.1183,"y":70.7,"s":"0.05% NaOCl (10x)"},{"x":0.1226,"y":70.9,"s":"0.05% NaOCl (10x)"},{"x":0.1271,"y":71.4,"s":"0.05% NaOCl (10x)"},{"x":0.1318,"y":71.0,"s":"0.05% NaOCl (10x)"},{"x":0.1366,"y":70.3,"s":"0.05% NaOCl (10x)"},{"x":0.1416,"y":70.6,"s":"0.05% NaOCl (10x)"},
{"x":0.1468,"y":70.8,"s":"0.05% NaOCl (10x)"},{"x":0.1522,"y":70.9,"s":"0.05% NaOCl (10x)"},{"x":0.1578,"y":70.3,"s":"0.05% NaOCl (10x)"},{"x":0.1636,"y":70.5,"s":"0.05% NaOCl (10x)"},{"x":0.1696,"y":70.9,"s":"0.05% NaOCl (10x)"},{"x":0.1758,"y":71.1,"s":"0.05% NaOCl (10x)"},{"x":0.1822,"y":70.9,"s":"0.05% NaOCl (10x)"},{"x":0.1889,"y":71.4,"s":"0.05% NaOCl (10x)"},{"x":0.1958,"y":71.4,"s":"0.05% NaOCl (10x)"},{"x":0.203,"y":71.4,"s":"0.05% NaOCl (10x)"},
{"x":0.2104,"y":71.7,"s":"0.05% NaOCl (10x)"},{"x":0.2181,"y":71.6,"s":"0.05% NaOCl (10x)"},{"x":0.2261,"y":71.9,"s":"0.05% NaOCl (10x)"},{"x":0.2344,"y":72.1,"s":"0.05% NaOCl (10x)"},{"x":0.243,"y":72.3,"s":"0.05% NaOCl (10x)"},{"x":0.2519,"y":71.8,"s":"0.05% NaOCl (10x)"},{"x":0.2611,"y":71.9,"s":"0.05% NaOCl (10x)"},{"x":0.2707,"y":72.7,"s":"0.05% NaOCl (10x)"},{"x":0.2806,"y":72.6,"s":"0.05% NaOCl (10x)"},{"x":0.2909,"y":73.0,"s":"0.05% NaOCl (10x)"},
{"x":0.3015,"y":73.4,"s":"0.05% NaOCl (10x)"},{"x":0.3126,"y":73.8,"s":"0.05% NaOCl (10x)"},{"x":0.324,"y":74.2,"s":"0.05% NaOCl (10x)"},{"x":0.3359,"y":74.3,"s":"0.05% NaOCl (10x)"},{"x":0.3482,"y":74.9,"s":"0.05% NaOCl (10x)"},{"x":0.3609,"y":75.5,"s":"0.05% NaOCl (10x)"},{"x":0.3741,"y":75.4,"s":"0.05% NaOCl (10x)"},{"x":0.3878,"y":76.2,"s":"0.05% NaOCl (10x)"},{"x":0.402,"y":76.4,"s":"0.05% NaOCl (10x)"},{"x":0.4167,"y":76.5,"s":"0.05% NaOCl (10x)"},
{"x":0.432,"y":77.0,"s":"0.05% NaOCl (10x)"},{"x":0.4478,"y":77.4,"s":"0.05% NaOCl (10x)"},{"x":0.4642,"y":77.6,"s":"0.05% NaOCl (10x)"},{"x":0.4812,"y":77.7,"s":"0.05% NaOCl (10x)"},{"x":0.4988,"y":78.1,"s":"0.05% NaOCl (10x)"},{"x":0.5171,"y":81.0,"s":"0.05% NaOCl (10x)"},{"x":0.536,"y":79.9,"s":"0.05% NaOCl (10x)"},{"x":0.5556,"y":79.6,"s":"0.05% NaOCl (10x)"},{"x":0.5759,"y":80.8,"s":"0.05% NaOCl (10x)"},{"x":0.597,"y":82.0,"s":"0.05% NaOCl (10x)"}
]
},
"hconcat": [
{
"vconcat": [
{
"title": "Heat treatment",
"width": 457, "height": 308,
"layer": [
{"data": {"name": "band"}, "mark": {"type": "area", "color": "#c9def5", "interpolate": "monotone"},
 "encoding": {"x": {"field": "x", "type": "quantitative", "scale": {"domain": [0, 0.7], "nice": false, "zero": false}, "axis": {"values": [0, 0.2, 0.4, 0.6], "format": ".1f"}, "title": "Aerosol diameter (μm)"},
  "y": {"field": "hi", "type": "quantitative", "scale": {"domain": [30, 100], "nice": false, "zero": false}, "axis": {"values": [40, 60, 80, 100]}, "title": "Filtration efficiency (%)"}, "y2": {"field": "lo"}}},
{"layer": [
{"data": {"name": "clean"}, "mark": {"type": "point", "size": 30, "strokeWidth": 1.5, "opacity": 1},
 "encoding": {"x": {"field": "x", "type": "quantitative", "title": "Aerosol diameter (μm)"}, "y": {"field": "y", "type": "quantitative", "title": "Filtration efficiency (%)"},
  "fill": {"field": "s", "type": "nominal", "scale": {"domain": ["Clean", "Steaming", "Boiling"], "range": ["#0000ff", "#ff0000", "#ff8c1a"]}, "legend": {"title": null, "orient": "top-left", "direction": "horizontal", "columns": 3, "columnPadding": 11, "offset": 10, "padding": 0, "symbolOffset": -4, "labelOffset": 22}},
  "stroke": {"field": "s", "type": "nominal", "scale": {"domain": ["Clean", "Steaming", "Boiling"], "range": ["#0000ff", "#ff0000", "#ff8c1a"]}},
  "shape": {"field": "s", "type": "nominal", "scale": {"domain": ["Clean", "Steaming", "Boiling"], "range": ["circle", "square", "diamond"]}}}},
{"data": {"name": "heat"}, "transform": [{"filter": {"field": "s", "oneOf": ["Steaming", "Boiling"]}}], "mark": {"type": "point", "size": 30, "strokeWidth": 1.5, "opacity": 1},
 "encoding": {"x": {"field": "x", "type": "quantitative", "title": "Aerosol diameter (μm)"}, "y": {"field": "y", "type": "quantitative", "title": "Filtration efficiency (%)"},
  "fill": {"field": "s", "type": "nominal", "scale": {"domain": ["Clean", "Steaming", "Boiling"], "range": ["#0000ff", "#ff0000", "#ff8c1a"]}},
  "stroke": {"field": "s", "type": "nominal", "scale": {"domain": ["Clean", "Steaming", "Boiling"], "range": ["#0000ff", "#ff0000", "#ff8c1a"]}},
  "shape": {"field": "s", "type": "nominal", "scale": {"domain": ["Clean", "Steaming", "Boiling"], "range": ["circle", "square", "diamond"]}}}}
]},
{"data": {"name": "heat"}, "transform": [{"filter": {"field": "s", "oneOf": ["Hot water"]}}], "mark": {"type": "point", "size": 30, "strokeWidth": 1.5, "opacity": 1},
 "encoding": {"x": {"field": "x", "type": "quantitative", "title": "Aerosol diameter (μm)"}, "y": {"field": "y", "type": "quantitative", "title": "Filtration efficiency (%)"},
  "fill": {"field": "s", "type": "nominal", "scale": {"domain": ["Hot water"], "range": ["#00c000"]}, "legend": {"title": null, "orient": "top-left", "direction": "horizontal", "columns": 1, "offset": 10, "padding": 0, "symbolOffset": -4, "labelOffset": 22}},
  "stroke": {"field": "s", "type": "nominal", "scale": {"domain": ["Hot water"], "range": ["#00c000"]}},
  "shape": {"field": "s", "type": "nominal", "scale": {"domain": ["Hot water"], "range": ["triangle-up"]}}}}
],
"resolve": {"scale": {"fill": "independent", "stroke": "independent", "shape": "independent"}}
},
{
"title": "UV-C treatment",
"width": 457, "height": 308,
"layer": [
{"data": {"name": "band"}, "mark": {"type": "area", "color": "#c9def5", "interpolate": "monotone"},
 "encoding": {"x": {"field": "x", "type": "quantitative", "scale": {"domain": [0, 0.7], "nice": false, "zero": false}, "axis": {"values": [0, 0.2, 0.4, 0.6], "format": ".1f"}, "title": "Aerosol diameter (μm)"},
  "y": {"field": "hi", "type": "quantitative", "scale": {"domain": [30, 100], "nice": false, "zero": false}, "axis": {"values": [40, 60, 80, 100]}, "title": "Filtration efficiency (%)"}, "y2": {"field": "lo"}}},
{"data": {"name": "clean"}, "mark": {"type": "point", "size": 30, "strokeWidth": 1.5, "opacity": 1},
 "encoding": {"x": {"field": "x", "type": "quantitative", "title": "Aerosol diameter (μm)"}, "y": {"field": "y", "type": "quantitative", "title": "Filtration efficiency (%)"},
  "fill": {"field": "s", "type": "nominal", "scale": {"domain": ["Clean", "UV-C"], "range": ["#0000ff", "#ff0000"]}, "legend": {"title": null, "orient": "top-left", "direction": "horizontal", "columns": 2, "columnPadding": 16, "offset": 7, "symbolOffset": -8, "labelOffset": 23}},
  "stroke": {"field": "s", "type": "nominal", "scale": {"domain": ["Clean", "UV-C"], "range": ["#0000ff", "#ff0000"]}},
  "shape": {"field": "s", "type": "nominal", "scale": {"domain": ["Clean", "UV-C"], "range": ["circle", "square"]}}}},
{"data": {"name": "uv"}, "mark": {"type": "point", "size": 30, "strokeWidth": 1.5, "opacity": 1},
 "encoding": {"x": {"field": "x", "type": "quantitative", "title": "Aerosol diameter (μm)"}, "y": {"field": "y", "type": "quantitative", "title": "Filtration efficiency (%)"},
  "fill": {"field": "s", "type": "nominal", "scale": {"domain": ["Clean", "UV-C"], "range": ["#0000ff", "#ff0000"]}},
  "stroke": {"field": "s", "type": "nominal", "scale": {"domain": ["Clean", "UV-C"], "range": ["#0000ff", "#ff0000"]}},
  "shape": {"field": "s", "type": "nominal", "scale": {"domain": ["Clean", "UV-C"], "range": ["circle", "square"]}}}}
]
}
],
"spacing": 46,
"resolve": {"scale": {"fill": "independent", "stroke": "independent", "shape": "independent"}, "legend": {"fill": "independent", "stroke": "independent", "shape": "independent"}}
},
{
"vconcat": [
{
"title": "Chemical treatment",
"width": 457, "height": 320,
"view": {"stroke": null},
"layer": [
{"data": {"name": "band"}, "mark": {"type": "area", "color": "#c9def5", "interpolate": "monotone"},
 "encoding": {"x": {"field": "x", "type": "quantitative", "scale": {"domain": [0, 0.7], "nice": false, "zero": false}, "axis": {"values": [0, 0.2, 0.4, 0.6], "format": ".1f"}, "title": "Aerosol diameter (μm)"},
  "y": {"field": "hi", "type": "quantitative", "scale": {"domain": [30, 100], "range": [320, 12], "nice": false, "zero": false}, "axis": {"values": [40, 60, 80, 100]}, "title": "Filtration efficiency (%)"}, "y2": {"field": "lo"}}},
{"data": {"name": "frame"}, "mark": {"type": "rule", "color": "#000000", "strokeWidth": 2},
 "encoding": {"x": {"field": "x", "type": "quantitative", "title": "Aerosol diameter (μm)"}, "x2": {"field": "x2"}, "y": {"field": "y", "type": "quantitative", "title": "Filtration efficiency (%)"}, "y2": {"field": "y2"}}},
{"layer": [
{"data": {"name": "clean"}, "mark": {"type": "point", "size": 30, "strokeWidth": 1.5, "opacity": 1},
 "encoding": {"x": {"field": "x", "type": "quantitative", "title": "Aerosol diameter (μm)"}, "y": {"field": "y", "type": "quantitative", "title": "Filtration efficiency (%)"},
  "fill": {"field": "s", "type": "nominal", "scale": {"domain": ["Clean", "0.5% H₂O₂", "70% Ethanol"], "range": ["#0000ff", "#ff0000", "transparent"]}, "legend": {"title": " ", "titleFontSize": 1, "titlePadding": 11, "orient": "top-left", "direction": "horizontal", "columns": 3, "columnPadding": 5, "offset": 5, "symbolOffset": -8, "labelOffset": 23}},
  "stroke": {"field": "s", "type": "nominal", "scale": {"domain": ["Clean", "0.5% H₂O₂", "70% Ethanol"], "range": ["#0000ff", "#ff0000", "#000000"]}},
  "shape": {"field": "s", "type": "nominal", "scale": {"domain": ["Clean", "0.5% H₂O₂", "70% Ethanol"], "range": ["circle", "square", "circle"]}}}},
{"data": {"name": "chem"}, "transform": [{"filter": {"field": "s", "oneOf": ["0.5% H₂O₂", "70% Ethanol"]}}], "mark": {"type": "point", "size": 30, "strokeWidth": 1.5, "opacity": 1},
 "encoding": {"x": {"field": "x", "type": "quantitative", "title": "Aerosol diameter (μm)"}, "y": {"field": "y", "type": "quantitative", "title": "Filtration efficiency (%)"},
  "fill": {"field": "s", "type": "nominal", "scale": {"domain": ["Clean", "0.5% H₂O₂", "70% Ethanol"], "range": ["#0000ff", "#ff0000", "transparent"]}},
  "stroke": {"field": "s", "type": "nominal", "scale": {"domain": ["Clean", "0.5% H₂O₂", "70% Ethanol"], "range": ["#0000ff", "#ff0000", "#000000"]}},
  "shape": {"field": "s", "type": "nominal", "scale": {"domain": ["Clean", "0.5% H₂O₂", "70% Ethanol"], "range": ["circle", "square", "circle"]}}}}
]},
{"data": {"name": "chem"}, "transform": [{"filter": {"field": "s", "oneOf": ["Dishwashing soap", "0.5% NaOCl"]}}], "mark": {"type": "point", "size": 30, "strokeWidth": 1.5, "opacity": 1},
 "encoding": {"x": {"field": "x", "type": "quantitative", "title": "Aerosol diameter (μm)"}, "y": {"field": "y", "type": "quantitative", "title": "Filtration efficiency (%)"},
  "fill": {"field": "s", "type": "nominal", "scale": {"domain": ["Dishwashing soap", "0.5% NaOCl"], "range": ["#ff8c1a", "#00c000"]}, "legend": {"title": null, "orient": "top-left", "direction": "horizontal", "columns": 2, "columnPadding": 37, "offset": 5, "symbolOffset": -8, "labelOffset": 23}},
  "stroke": {"field": "s", "type": "nominal", "scale": {"domain": ["Dishwashing soap", "0.5% NaOCl"], "range": ["#ff8c1a", "#00c000"]}},
  "shape": {"field": "s", "type": "nominal", "scale": {"domain": ["Dishwashing soap", "0.5% NaOCl"], "range": ["diamond", "triangle-up"]}}}}
],
"resolve": {"scale": {"fill": "independent", "stroke": "independent", "shape": "independent"}}
},
{
"title": "Aging samples",
"width": 457, "height": 308,
"layer": [
{"data": {"name": "band"}, "mark": {"type": "area", "color": "#c9def5", "interpolate": "monotone"},
 "encoding": {"x": {"field": "x", "type": "quantitative", "scale": {"domain": [0, 0.7], "nice": false, "zero": false}, "axis": {"values": [0, 0.2, 0.4, 0.6], "format": ".1f"}, "title": "Aerosol diameter (μm)"},
  "y": {"field": "hi", "type": "quantitative", "scale": {"domain": [30, 100], "nice": false, "zero": false}, "axis": {"values": [40, 60, 80, 100]}, "title": "Filtration efficiency (%)"}, "y2": {"field": "lo"}}},
{"layer": [
{"data": {"name": "clean"}, "mark": {"type": "point", "size": 30, "strokeWidth": 1.5, "opacity": 1},
 "encoding": {"x": {"field": "x", "type": "quantitative", "title": "Aerosol diameter (μm)"}, "y": {"field": "y", "type": "quantitative", "title": "Filtration efficiency (%)"},
  "fill": {"field": "s", "type": "nominal", "scale": {"domain": ["Clean", "0.5% H₂O₂ (10x)"], "range": ["#0000ff", "#ff0000"]}, "legend": {"title": null, "orient": "bottom-left", "direction": "horizontal", "columns": 2, "columnPadding": 45, "offset": 9, "symbolOffset": 12, "labelOffset": 23}},
  "stroke": {"field": "s", "type": "nominal", "scale": {"domain": ["Clean", "0.5% H₂O₂ (10x)"], "range": ["#0000ff", "#ff0000"]}},
  "shape": {"field": "s", "type": "nominal", "scale": {"domain": ["Clean", "0.5% H₂O₂ (10x)"], "range": ["circle", "square"]}}}},
{"data": {"name": "aging"}, "transform": [{"filter": {"field": "s", "oneOf": ["0.5% H₂O₂ (10x)"]}}], "mark": {"type": "point", "size": 30, "strokeWidth": 1.5, "opacity": 1},
 "encoding": {"x": {"field": "x", "type": "quantitative", "title": "Aerosol diameter (μm)"}, "y": {"field": "y", "type": "quantitative", "title": "Filtration efficiency (%)"},
  "fill": {"field": "s", "type": "nominal", "scale": {"domain": ["Clean", "0.5% H₂O₂ (10x)"], "range": ["#0000ff", "#ff0000"]}},
  "stroke": {"field": "s", "type": "nominal", "scale": {"domain": ["Clean", "0.5% H₂O₂ (10x)"], "range": ["#0000ff", "#ff0000"]}},
  "shape": {"field": "s", "type": "nominal", "scale": {"domain": ["Clean", "0.5% H₂O₂ (10x)"], "range": ["circle", "square"]}}}}
]},
{"data": {"name": "aging"}, "transform": [{"filter": {"field": "s", "oneOf": ["0.5% NaOCl (10x)", "UV-C (30x)", "0.05% NaOCl (10x)"]}}], "mark": {"type": "point", "size": 30, "strokeWidth": 1.5, "opacity": 1},
 "encoding": {"x": {"field": "x", "type": "quantitative", "title": "Aerosol diameter (μm)"}, "y": {"field": "y", "type": "quantitative", "title": "Filtration efficiency (%)"},
  "fill": {"field": "s", "type": "nominal", "scale": {"domain": ["0.5% NaOCl (10x)", "UV-C (30x)", "0.05% NaOCl (10x)"], "range": ["#b435e8", "#ff8c1a", "#00c000"]}, "legend": {"title": null, "orient": "bottom-left", "direction": "horizontal", "columns": 2, "columnPadding": 0, "offset": 9, "symbolOffset": 12, "labelOffset": 18}},
  "stroke": {"field": "s", "type": "nominal", "scale": {"domain": ["0.5% NaOCl (10x)", "UV-C (30x)", "0.05% NaOCl (10x)"], "range": ["#b435e8", "#ff8c1a", "#00c000"]}},
  "shape": {"field": "s", "type": "nominal", "scale": {"domain": ["0.5% NaOCl (10x)", "UV-C (30x)", "0.05% NaOCl (10x)"], "range": ["triangle-down", "diamond", "triangle-up"]}}}}
],
"resolve": {"scale": {"fill": "independent", "stroke": "independent", "shape": "independent"}}
}
],
"spacing": 34,
"resolve": {"scale": {"fill": "independent", "stroke": "independent", "shape": "independent"}, "legend": {"fill": "independent", "stroke": "independent", "shape": "independent"}}
}
],
"spacing": 92,
"resolve": {"scale": {"fill": "independent", "stroke": "independent", "shape": "independent"}, "legend": {"fill": "independent", "stroke": "independent", "shape": "independent"}},
"config": {
"font": "Liberation Sans",
"view": {"stroke": "#000000", "strokeWidth": 2},
"axis": {"labelFont": "Liberation Sans", "labelFontSize": 32, "labelFontWeight": "bold", "labelColor": "#000000", "titleFont": "Liberation Sans", "titleFontSize": 31, "titleFontWeight": "bold", "titleColor": "#000000", "domainColor": "#000000", "domainWidth": 2, "tickColor": "#000000", "tickWidth": 2, "tickSize": 8, "grid": false, "labelPadding": 5, "titlePadding": 10, "labelFlush": false, "labelOverlap": false},
"title": {"font": "Liberation Sans", "fontSize": 36, "fontWeight": "bold", "color": "#000000", "anchor": "middle", "frame": "group", "offset": 30},
"legend": {"labelFont": "Liberation Sans", "labelFontSize": 24, "labelColor": "#333333", "symbolSize": 28, "symbolStrokeWidth": 1.5, "padding": 2, "labelLimit": 400,
 "layout": {"top-left": {"direction": "vertical", "margin": 2}, "bottom-left": {"direction": "vertical", "margin": 2}}}
}
}
